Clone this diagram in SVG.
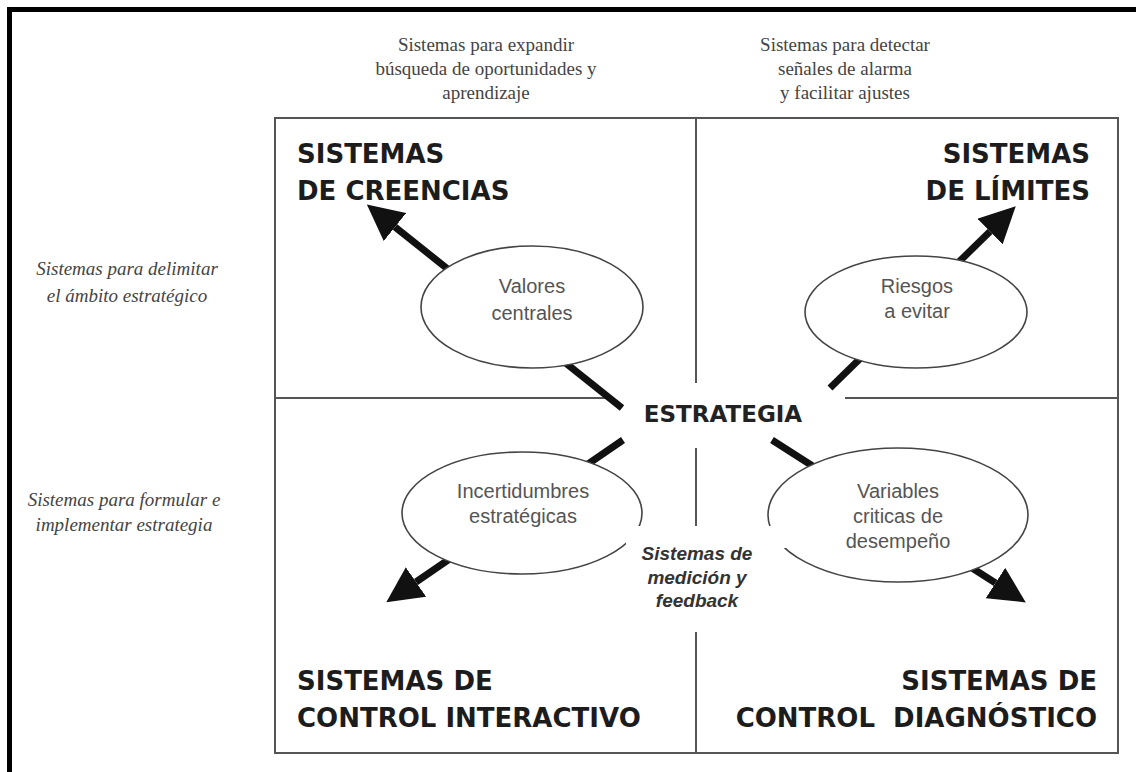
<svg xmlns="http://www.w3.org/2000/svg" width="1136" height="772" viewBox="0 0 1136 772">
<defs>
<style>
.frame{fill:none;stroke:#000;stroke-width:5}
.box{fill:none;stroke:#555;stroke-width:2}
.div{stroke:#555;stroke-width:2;fill:none}
.ell{fill:#fff;stroke:#444;stroke-width:1.6}
.arr{stroke:#111;stroke-width:7;fill:none}
.head{font-family:"DejaVu Sans",Verdana,sans-serif;font-weight:bold;font-size:26px;fill:#1c1c1c}
.strat{font-family:"DejaVu Sans",Verdana,sans-serif;font-weight:bold;font-size:23px;fill:#222}
.note{font-family:"Liberation Serif","Times New Roman",serif;font-size:19px;fill:#444;text-anchor:middle}
.side{font-family:"Liberation Serif","Times New Roman",serif;font-style:italic;font-size:19px;fill:#444;text-anchor:middle}
.lbl{font-family:"Liberation Sans",Arial,sans-serif;font-size:20px;fill:#555;text-anchor:middle}
.fb{font-family:"Liberation Sans",Arial,sans-serif;font-weight:bold;font-style:italic;font-size:19px;fill:#333;text-anchor:middle}
</style>
<marker id="ah" viewBox="0 -18 36 36" refX="0" refY="0" markerWidth="36" markerHeight="36" markerUnits="userSpaceOnUse" orient="auto">
<path d="M0,-18 L36,0 L0,18 z" fill="#111"/>
</marker>
</defs>
<rect width="1136" height="772" fill="#fff"/>
<path class="frame" d="M9.5,772 V9.5 H1136"/>

<g id="grid">
<rect class="box" x="275" y="118" width="843" height="635"/>
<path class="div" d="M696,118 V383 M696,448 V526 M696,632 V753 M275,398 H606 M845,398 H1118"/>
</g>

<g id="connectors">
<line class="arr" x1="622" y1="408" x2="395" y2="227" marker-end="url(#ah)"/>
<line class="arr" x1="830" y1="388" x2="990" y2="231.5" marker-end="url(#ah)"/>
<line class="arr" x1="623" y1="440" x2="416" y2="582" marker-end="url(#ah)"/>
<line class="arr" x1="772" y1="440" x2="995.5" y2="583" marker-end="url(#ah)"/>
</g>

<g id="top-notes">
<text class="note" x="486" y="51">Sistemas para expandir</text>
<text class="note" x="486" y="75">búsqueda de oportunidades y</text>
<text class="note" x="486" y="99">aprendizaje</text>
<text class="note" x="845" y="51">Sistemas para detectar</text>
<text class="note" x="845" y="75">señales de alarma</text>
<text class="note" x="845" y="99">y facilitar ajustes</text>
</g>

<g id="side-notes">
<text class="side" x="127" y="275">Sistemas para delimitar</text>
<text class="side" x="127" y="302">el ámbito estratégico</text>
<text class="side" x="124" y="506">Sistemas para formular e</text>
<text class="side" x="124" y="531">implementar estrategia</text>
</g>

<g id="creencias">
<text class="head" x="297" y="163">SISTEMAS</text>
<text class="head" x="297" y="200">DE CREENCIAS</text>
</g>
<g id="limites">
<text class="head" x="1090" y="163" text-anchor="end">SISTEMAS</text>
<text class="head" x="1090" y="200" text-anchor="end">DE LÍMITES</text>
</g>
<g id="interactivo">
<text class="head" x="297" y="690">SISTEMAS DE</text>
<text class="head" x="297" y="727">CONTROL INTERACTIVO</text>
</g>
<g id="diagnostico">
<text class="head" x="1097" y="690" text-anchor="end">SISTEMAS DE</text>
<text class="head" x="1097" y="727" text-anchor="end" xml:space="preserve">CONTROL  DIAGNÓSTICO</text>
</g>

<g id="estrategia">
<text class="strat" x="723" y="422" text-anchor="middle">ESTRATEGIA</text>
</g>

<g id="valores">
<ellipse class="ell" cx="532" cy="307" rx="111" ry="61"/>
<text class="lbl" x="532" y="293">Valores</text>
<text class="lbl" x="532" y="320">centrales</text>
</g>
<g id="riesgos">
<ellipse class="ell" cx="916" cy="312" rx="111" ry="56"/>
<text class="lbl" x="917" y="293">Riesgos</text>
<text class="lbl" x="917" y="318">a evitar</text>
</g>
<g id="incertidumbres">
<ellipse class="ell" cx="522" cy="513" rx="120" ry="61"/>
<text class="lbl" x="523" y="498">Incertidumbres</text>
<text class="lbl" x="523" y="523">estratégicas</text>
</g>
<g id="variables">
<ellipse class="ell" cx="898" cy="515" rx="130" ry="67"/>
<text class="lbl" x="898" y="498">Variables</text>
<text class="lbl" x="898" y="523">criticas de</text>
<text class="lbl" x="898" y="548">desempeño</text>
</g>

<g id="feedback">
<rect x="626" y="526" width="163" height="22" fill="#fff"/>
<text class="fb" x="697" y="560">Sistemas de</text>
<text class="fb" x="697" y="584">medición y</text>
<text class="fb" x="697" y="607">feedback</text>
</g>
</svg>
